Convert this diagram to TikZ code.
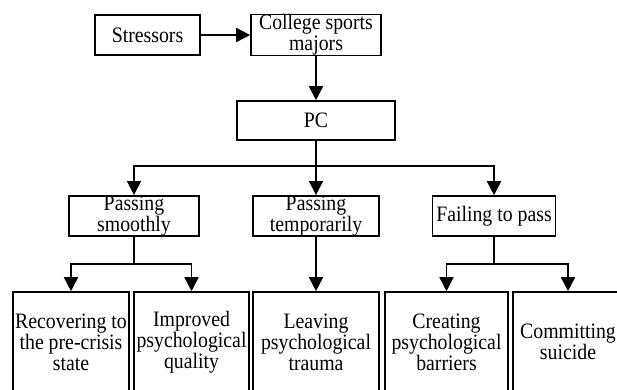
\documentclass[tikz,border=0pt]{standalone}
\usepackage{fontspec}
\setmainfont{Liberation Serif}[FakeStretch=0.9]
\usetikzlibrary{arrows.meta}

\tikzset{
  box/.style={draw=black, line width=1.6pt, inner sep=0pt, align=center,
    font=\fontsize{22}{21}\selectfont},
  arr/.style={line width=1.6pt, -{Triangle[length=14pt,width=14pt]}},
  link/.style={line width=1.6pt}
}

\begin{document}
\begin{tikzpicture}[x=1pt, y=-1pt]
  \clip (0,0) rectangle (617,389);
  \useasboundingbox (0,0) rectangle (617,389);

  % top row
  \node[box, minimum width=105pt, minimum height=40pt] (stress) at (147.5,35) {Stressors};
  \node[box, minimum width=130pt, minimum height=40pt] (college) at (316,35) {College sports\\majors};
  \node[box, minimum width=158pt, minimum height=39pt] (pc) at (316,120.5) {PC};

  % three outcomes
  \node[box, minimum width=130pt, minimum height=40pt] (smooth) at (134,216) {Passing\\smoothly};
  \node[box, minimum width=126pt, minimum height=40pt] (temp) at (316,216) {Passing\\temporarily};
  \node[box, minimum width=123pt, minimum height=40pt] (fail) at (494,216) {Failing to pass};

  % bottom row, cut off by the page edge
  \node[box, minimum width=116pt, minimum height=100pt] (recover) at (71,342) {Recovering to\\the pre-crisis\\state};
  \node[box, minimum width=115pt, minimum height=100pt] (improve) at (191.5,342) {Improved\\psychological\\quality};
  \node[box, minimum width=126pt, minimum height=100pt] (trauma) at (316,342) {Leaving\\psychological\\trauma};
  \node[box, minimum width=123pt, minimum height=100pt] (barrier) at (446.5,342) {Creating\\psychological\\barriers};
  \node[box, minimum width=110pt, minimum height=100pt] (suicide) at (568,342) {Committing\\suicide};

  \coordinate (split) at (316,166);
  \coordinate (splitA) at (134,264);
  \coordinate (splitC) at (494,264);

  % connectors
  \draw[arr] (stress) -- (college);
  \draw[arr] (college) -- (pc);
  \draw[link] (pc) -- (split);
  \draw[arr] (split) -| (smooth);
  \draw[arr] (split) -- (temp);
  \draw[arr] (split) -| (fail);
  \draw[link] (smooth) -- (splitA);
  \draw[arr] (splitA) -| (recover);
  \draw[arr] (splitA) -| (improve);
  \draw[arr] (temp) -- (trauma);
  \draw[link] (fail) -- (splitC);
  \draw[arr] (splitC) -| (barrier);
  \draw[arr] (splitC) -| (suicide);
\end{tikzpicture}
\end{document}
